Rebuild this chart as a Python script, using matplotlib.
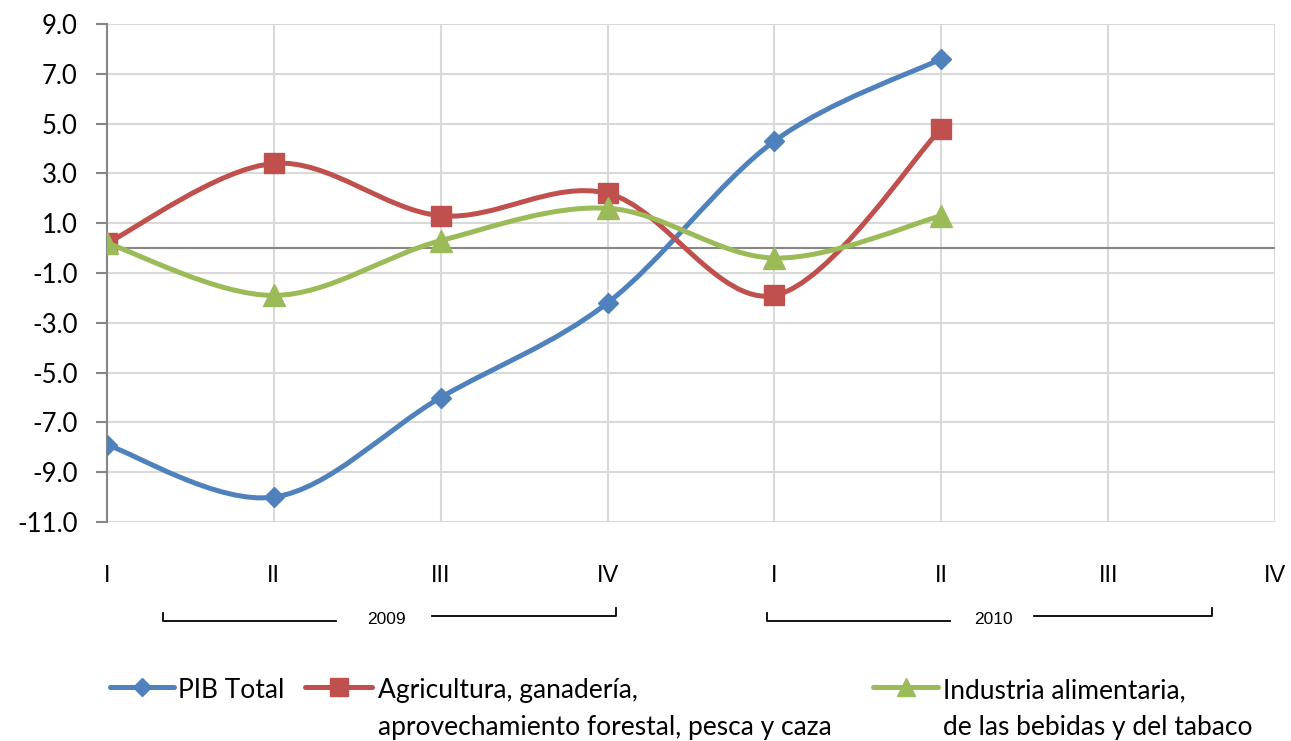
import matplotlib
matplotlib.use("Agg")
import matplotlib.pyplot as plt
import numpy as np
from matplotlib.path import Path
from matplotlib.patches import PathPatch
from matplotlib.lines import Line2D

# Data
quarters = ["I", "II", "III", "IV", "I", "II", "III", "IV"]
years = ["2009", "2010"]
pib_total = [-7.9, -10.0, -6.0, -2.2, 4.3, 7.6]
agricultura = [0.2, 3.4, 1.3, 2.2, -1.9, 4.8]
industria = [0.2, -1.9, 0.3, 1.6, -0.4, 1.3]

series_labels = [
    ["PIB Total"],
    ["Agricultura, ganadería,", "aprovechamiento forestal, pesca y caza"],
    ["Industria alimentaria,", "de las bebidas y del tabaco"],
]
colors = ["#4F81BD", "#C0504D", "#9BBB59"]
markers = ["D", "s", "^"]
msizes = [10.5, 15, 16]

W, H = 1291, 741
fig = plt.figure(figsize=(W / 100, H / 100), dpi=100)
ax = fig.add_axes([107 / W, 1 - 522 / H, (1275 - 107) / W, (522 - 24) / H])


def smooth_path(xs, ys, t=1 / 6):
    # Excel-like smoothed line: cubic Bezier through the points
    pts = np.column_stack([xs, ys]).astype(float)
    n = len(pts)
    verts = [pts[0]]
    codes = [Path.MOVETO]
    for i in range(n - 1):
        p0 = pts[i - 1] if i > 0 else pts[i]
        p3 = pts[i + 2] if i + 2 < n else pts[i + 1]
        c1 = pts[i] + (pts[i + 1] - p0) * t
        c2 = pts[i + 1] - (p3 - pts[i]) * t
        verts += [c1, c2, pts[i + 1]]
        codes += [Path.CURVE4] * 3
    return Path(verts, codes)


# Grid
ax.set_xlim(0, 7)
ax.set_ylim(-11, 9)
ax.set_yticks(np.arange(-11, 10, 2))
ax.set_yticklabels([f"{v:.1f}" for v in np.arange(-11, 10, 2)])
ax.set_xticks(range(len(quarters)))
ax.set_xticklabels(quarters)
ax.grid(True, color="#D9D9D9", linewidth=1.5)
ax.set_axisbelow(True)
for s in ["top", "right", "bottom"]:
    ax.spines[s].set_visible(False)
ax.spines["left"].set_color("#868686")
ax.spines["left"].set_linewidth(1.5)
ax.axhline(0, color="#868686", linewidth=1.5, zorder=1.5)

ax.tick_params(axis="y", length=8, width=1.5, color="#868686", pad=13,
               labelsize=18.5)
ax.tick_params(axis="x", length=0, pad=31, labelsize=17)
for lab in ax.get_yticklabels():
    lab.set_family("Lato")
for lab in ax.get_xticklabels():
    lab.set_family("Liberation Sans")

# Series
x = np.arange(len(pib_total))
for vals, c, m, ms in zip([pib_total, agricultura, industria], colors, markers, msizes):
    ax.add_patch(PathPatch(smooth_path(x, vals), facecolor="none", edgecolor=c,
                           linewidth=3.6, capstyle="round", zorder=3))
    ax.plot(x, vals, linestyle="none", marker=m, markersize=ms, color=c, zorder=3)

# Year brackets below the axis
trans = ax.get_xaxis_transform()


def px2ax(py):
    return (522 - py) / 498


def px2x(px):
    return (px - 107) / (1168 / 7)


brackets = [(163, 336, 365, 407, 432, 616), (767, 950, 972, 1014, 1034, 1212)]
for yr, (l0, l1, t0, t1, r0, r1) in zip(years, brackets):
    yl, yr_ = px2ax(621), px2ax(616)
    ax.plot([px2x(l0), px2x(l0), px2x(l1)], [yl + 0.016, yl, yl], color="black",
            linewidth=1.3, transform=trans, clip_on=False)
    ax.plot([px2x(r0), px2x(r1), px2x(r1)], [yr_, yr_, yr_ + 0.016], color="black",
            linewidth=1.3, transform=trans, clip_on=False)
    ax.text(px2x((t0 + t1) / 2), px2ax(620), yr, transform=trans, ha="center",
            va="center", fontsize=12.5, family="Liberation Sans")

# Legend drawn by hand to match layout
leg_y = 1 - 687 / H
handles = [(110, 174, 178), (305, 372, 378), (873, 938, 943)]
for (h0, h1, tx), lines, c, m, ms in zip(handles, series_labels, colors, markers, msizes):
    fig.add_artist(Line2D([h0 / W, h1 / W], [leg_y, leg_y], color=c, linewidth=3.6,
                          solid_capstyle="round", transform=fig.transFigure))
    fig.add_artist(Line2D([(h0 + h1) / 2 / W], [leg_y], color=c, marker=m,
                          markersize=ms * 0.85, transform=fig.transFigure))
    for k, line in enumerate(lines):
        fig.text(tx / W, 1 - (698 + 37 * k) / H, line, ha="left", va="baseline",
                 fontsize=19, family="Lato")

fig.savefig("out.png", dpi=100)
